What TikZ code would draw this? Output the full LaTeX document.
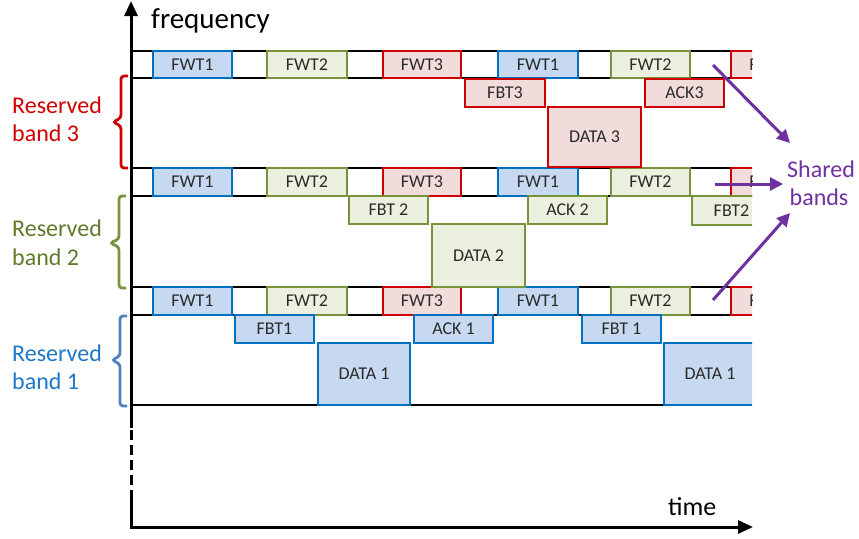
\documentclass[tikz,border=0pt]{standalone}
\usepackage{fontspec}
\setmainfont{Carlito}
\usetikzlibrary{arrows.meta}
\definecolor{bfill}{HTML}{C6D9F0}
\definecolor{bline}{HTML}{0070C0}
\definecolor{gfill}{HTML}{EBF1DE}
\definecolor{gline}{HTML}{77933C}
\definecolor{rfill}{HTML}{F2DCDB}
\definecolor{rline}{HTML}{D00000}
\definecolor{txt}{HTML}{2B2B2B}
\definecolor{purp}{HTML}{7030A0}
\definecolor{lab1}{HTML}{1F77C8}
\definecolor{brace1}{HTML}{4F81BD}
\definecolor{lab2}{HTML}{5F7A2A}
\newcommand\cell[7]{\node[#1,minimum width={(#5-#3)*1pt},minimum height={(#6-#4)*1pt}] (#2) at ({(#3+#5)/2},{(#4+#6)/2}) {#7};}
\tikzset{
  cellbase/.style={line width=2pt, inner sep=0pt, outer sep=0pt, font=\fontsize{18}{21}\selectfont, text=txt},
  cellb/.style={cellbase, draw=bline, fill=bfill},
  cellg/.style={cellbase, draw=gline, fill=gfill},
  cellr/.style={cellbase, draw=rline, fill=rfill},
  stripline/.style={line width=2.5pt, black},
  axisline/.style={line width=3pt, black},
  bracestyle/.style={line width=2.8pt, rounded corners=3pt},
  labtext/.style={font=\fontsize{24}{28}\selectfont, inner sep=0pt, anchor=base west},
  sharedarrow/.style={line width=3pt, purp, -{Triangle[length=13pt,width=13pt]}},
}
\begin{document}
\begin{tikzpicture}[x=1pt,y=-1pt]
\useasboundingbox (0,0) rectangle (859,538);
% strip lines
\foreach \yy in {51,78,168,196,287,315,405}
  \draw[stripline] (131,\yy) -- (752,\yy);
\begin{scope}
\clip (0,0) rectangle (752,538);
% shared strips
\foreach \r/\ya/\yb in {c/51/78, b/168/196, a/287/315}{
  \cell{cellb}{fwtone\r}{153}{\ya}{232}{\yb}{FWT1}
  \cell{cellg}{fwttwo\r}{267}{\ya}{347}{\yb}{FWT2}
  \cell{cellr}{fwtthree\r}{383}{\ya}{461}{\yb}{FWT3}
  \cell{cellb}{fwtoneb\r}{498}{\ya}{578}{\yb}{FWT1}
  \cell{cellg}{fwttwob\r}{611}{\ya}{690}{\yb}{FWT2}
  \cell{cellr}{fwtthreeb\r}{731}{\ya}{810}{\yb}{FWT3}
}
% band 3
\cell{cellr}{fbt3}{465}{79}{545}{107}{FBT3}
\cell{cellr}{ack3}{645}{79}{724}{107}{ACK3}
\cell{cellr}{data3}{548}{107}{641}{167}{DATA 3}
% band 2
\cell{cellg}{fbt2}{349}{196}{428}{224}{FBT 2}
\cell{cellg}{ack2}{528}{196}{607}{224}{ACK 2}
\cell{cellg}{data2}{432}{224}{525}{287}{DATA 2}
\cell{cellg}{fbt2b}{692}{196}{771}{225}{FBT2}
% band 1
\cell{cellb}{fbt1}{235}{315}{314}{343}{FBT1}
\cell{cellb}{ack1}{414}{315}{493}{343}{ACK 1}
\cell{cellb}{data1}{318}{343}{410}{405}{DATA 1}
\cell{cellb}{fbt1b}{582}{315}{661}{343}{FBT 1}
\cell{cellb}{data1b}{664}{343}{756}{405}{DATA 1}
\end{scope}
% axes
\draw[axisline,-{Triangle[length=15pt,width=13pt]}] (131,428) -- (131,1);
\draw[axisline,dash pattern=on 10pt off 5pt] (131,430) -- (131,490);
\draw[axisline,-{Triangle[length=15pt,width=13pt]}] (131,490) -- (131,527) -- (753,527);
\node[font=\fontsize{29}{34}\selectfont, inner sep=0pt, anchor=base west] (freq) at (151,28) {frequency};
\node[font=\fontsize{26}{30}\selectfont, inner sep=0pt, anchor=base west] (time) at (668,515) {time};
% braces
\draw[bracestyle, rline] (128,76) -- (121,76) -- (121,118) -- (113,122) -- (121,126) -- (121,168) -- (128,168);
\draw[bracestyle, gline] (126,196) -- (119,196) -- (119,239) -- (110,243) -- (119,247) -- (119,288) -- (126,288);
\draw[bracestyle, brace1] (127,316) -- (120,316) -- (120,356) -- (112,360) -- (120,364) -- (120,406) -- (127,406);
% labels
\node[labtext, text=rline] (res3a) at (12,113) {Reserved};
\node[labtext, text=rline] (res3b) at (12,141) {band 3};
\node[labtext, text=lab2] (res2a) at (12,236) {Reserved};
\node[labtext, text=lab2] (res2b) at (12,265) {band 2};
\node[labtext, text=lab1] (res1a) at (12,361) {Reserved};
\node[labtext, text=lab1] (res1b) at (12,389) {band 1};
% shared bands
\node[font=\fontsize{24}{28}\selectfont, inner sep=0pt, anchor=base, text=purp] (shareda) at (821,177) {Shared};
\node[font=\fontsize{24}{28}\selectfont, inner sep=0pt, anchor=base, text=purp] (sharedb) at (819,205) {bands};
\coordinate (s3) at (713,65);
\coordinate (s2) at (715,184);
\coordinate (s1) at (713,300);
\coordinate (e3) at (790,143);
\coordinate (e2) at (783,184);
\coordinate (e1) at (790,213);
\draw[sharedarrow] (s3) -- (e3);
\draw[sharedarrow] (s2) -- (e2);
\draw[sharedarrow] (s1) -- (e1);
\end{tikzpicture}
\end{document}
